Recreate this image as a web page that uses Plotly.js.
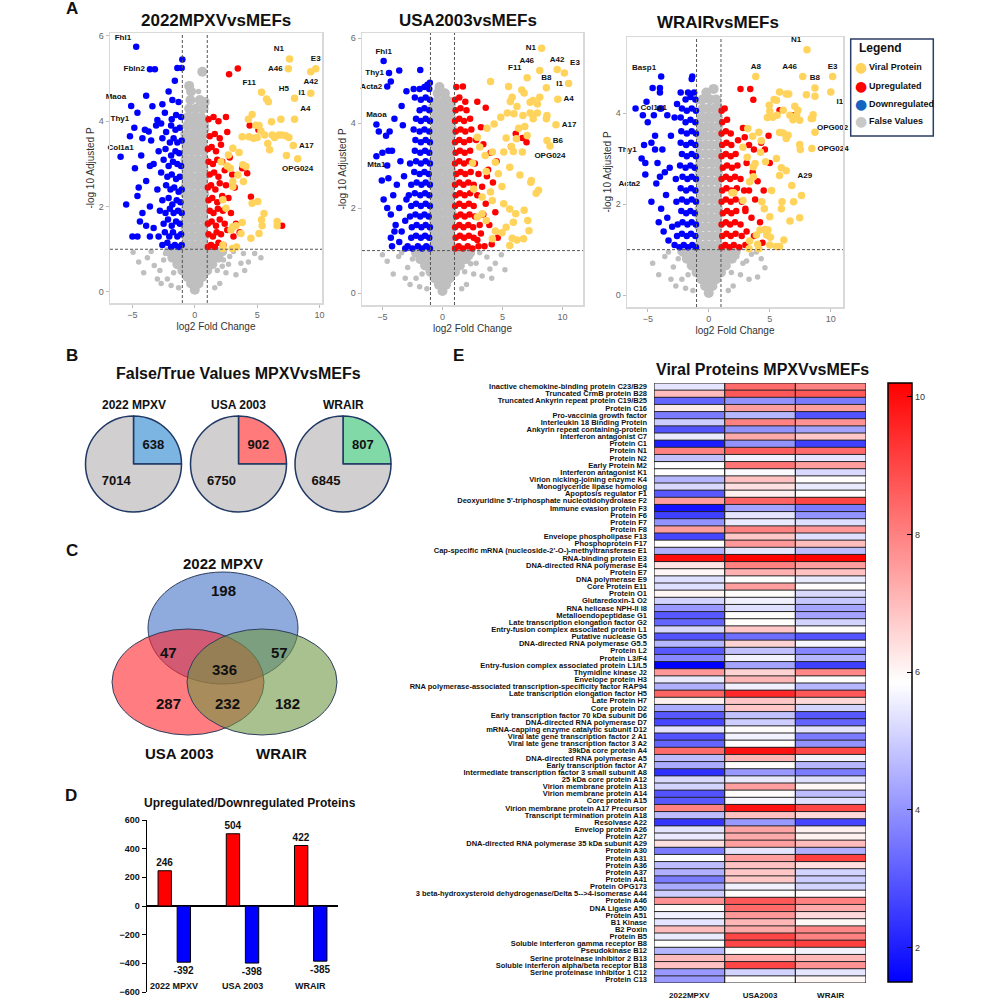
<!DOCTYPE html>
<html><head><meta charset="utf-8">
<script src="https://cdn.plot.ly/plotly-3.0.1.min.js"></script>
<style>html,body{margin:0;padding:0;background:#fff}#chart{width:1000px;height:1000px}</style>
</head><body><div id="chart"></div>
<script>
// ---------------- DATA ----------------
// Volcano 1: 2022MPXVvsMEFs  ([log2FC, -log10 adj P])
const v1GrayCore = [[0,0.05],[-0.3,0.2],[0.3,0.2],[-0.6,0.35],[0,0.35],[0.6,0.35],[-1.0,0.5],[-0.5,0.5],[0,0.5],[0.5,0.5],[1.0,0.5],
[-1.4,0.65],[-0.9,0.65],[-0.45,0.65],[0,0.65],[0.45,0.65],[0.9,0.65],[1.4,0.65],[-1.8,0.8],[-1.3,0.8],[-0.85,0.8],[-0.4,0.8],[0.05,0.8],[0.5,0.8],[0.95,0.8],[1.4,0.8],[1.9,0.8],
[-2.1,0.95],[-1.6,0.95],[-1.1,0.95],[-0.6,0.95],[-0.15,0.95],[0.3,0.95],[0.75,0.95],[1.2,0.95],[1.7,0.95],[2.2,0.95],
[-0.75,1.1],[-0.25,1.1],[0.25,1.1],[0.75,1.1],[-0.7,1.3],[-0.2,1.3],[0.3,1.3],[0.75,1.3],[-0.75,1.5],[-0.25,1.5],[0.25,1.5],[0.7,1.5],
[-0.7,1.7],[-0.25,1.7],[0.2,1.7],[0.7,1.7],[-0.75,1.9],[-0.3,1.9],[0.25,1.9],[0.75,1.9],[-0.7,2.1],[-0.2,2.1],[0.3,2.1],[0.7,2.1],
[-0.75,2.3],[-0.25,2.3],[0.25,2.3],[0.75,2.3],[-0.7,2.5],[-0.25,2.5],[0.2,2.5],[0.7,2.5],[-0.75,2.7],[-0.3,2.7],[0.25,2.7],[0.75,2.7],
[-0.7,2.9],[-0.2,2.9],[0.3,2.9],[0.7,2.9],[-0.75,3.1],[-0.25,3.1],[0.25,3.1],[0.75,3.1],[-0.7,3.3],[-0.25,3.3],[0.2,3.3],[0.7,3.3],
[-0.7,3.5],[-0.3,3.5],[0.2,3.5],[0.65,3.5],[-0.65,3.7],[-0.2,3.7],[0.25,3.7],[0.7,3.7],[-0.6,3.9],[-0.15,3.9],[0.3,3.9],[0.75,3.9],
[-0.55,4.1],[-0.05,4.1],[0.5,4.1],[-0.45,4.3],[0.1,4.3],[0.7,4.3],[-0.35,4.5],[0.4,4.5],[0.8,4.45],[-0.3,4.7],[-0.45,4.83],[0.6,5.16]];
const v1GrayScatter = [[-4.95,0.93],[-3.25,0.62],[3.7,0.67],[2.8,0.83],[-3.8,0.8],[-2.8,0.5],[-2.5,0.75],[-2.2,0.3],[-1.9,0.15],[2.0,0.2],[2.5,0.45],[3.1,0.95],[3.3,0.4],[4.3,0.7],[4.8,0.9],[5.3,0.8],[-4.1,0.45],[-3.5,0.95],[2.7,0.65],[-2.7,0.2],[1.6,0.1],[-1.3,0.1],[3.9,0.9],[-3.0,0.3],[4.0,0.5],[2.3,0.75],[-2.35,0.9],[-1.7,0.45],[1.8,0.5],[2.2,0.6],[-4.5,0.7],[0.3,4.7],[0.9,4.48],[-0.9,4.1],[0.85,4.05],[0.95,3.8],[-0.95,3.7]];
const v1Down = [[-1.05,1.1],[-1.3,1.05],[-1.6,1.1],[-1.9,1.05],[-2.2,1.15],[-2.6,1.1],[-1.1,1.35],[-1.4,1.3],[-1.75,1.4],[-2.05,1.3],[-2.4,1.4],[-2.9,1.3],
[-1.2,1.6],[-1.5,1.65],[-1.85,1.55],[-2.15,1.7],[-2.5,1.6],[-3.3,1.5],[-1.05,1.85],[-1.35,1.9],[-1.7,1.85],[-2.0,1.95],[-2.35,1.85],[-2.8,1.9],
[-1.15,2.1],[-1.45,2.15],[-1.8,2.05],[-2.1,2.2],[-2.6,2.15],[-3.6,2.0],[-1.05,2.4],[-1.3,2.35],[-1.65,2.45],[-1.95,2.4],[-2.3,2.5],[-3.0,2.4],
[-1.2,2.7],[-1.5,2.65],[-1.85,2.75],[-2.2,2.7],[-2.7,2.8],[-3.9,2.6],[-1.1,2.95],[-1.4,3.0],[-1.75,3.05],[-2.1,2.95],[-2.5,3.1],[-3.3,3.0],
[-1.25,3.25],[-1.55,3.3],[-1.9,3.2],[-2.35,3.35],[-2.9,3.3],[-4.3,3.2],[-1.05,3.55],[-1.4,3.5],[-1.7,3.6],[-2.0,3.5],[-2.6,3.6],[-3.5,3.55],
[-1.2,3.85],[-1.55,3.8],[-1.9,3.9],[-2.3,3.75],[-3.1,3.9],[-4.0,3.8],[-1.1,4.1],[-1.5,4.15],[-1.85,4.05],[-2.4,4.2],[-3.4,4.35],
[-1.3,4.45],[-1.8,4.5],[-2.1,4.7],[-2.6,4.4],[-1.0,5.45],[-1.05,5.25],[-1.4,5.25],[-1.6,4.95],[-3.2,5.22],
[-3.9,4.6],[-4.6,4.2],[-5.2,3.65],[-4.2,3.6],[-3.6,2.95],[-4.8,2.9],[-4.5,2.45],[-5.5,2.05],[-4.2,1.85],[-3.9,1.55],[-5.0,1.3],[-3.6,1.3],[-4.4,1.65],[-2.7,3.95],[-3.0,4.03],[-3.7,3.76],[-4.6,2.25],[-4.6,1.3]];
const v1Up = [[1.05,1.05],[1.3,1.1],[1.6,1.05],[1.9,1.15],[2.3,1.1],[1.1,1.35],[1.45,1.3],[1.75,1.4],[2.1,1.35],[2.6,1.45],[3.1,1.3],
[1.05,1.6],[1.35,1.65],[1.7,1.55],[2.0,1.7],[2.4,1.6],[3.3,1.6],[1.2,1.9],[1.5,1.85],[1.85,1.95],[2.25,1.9],[2.9,1.85],
[1.1,2.15],[1.4,2.2],[1.8,2.1],[2.2,2.25],[2.7,2.2],[1.05,2.45],[1.3,2.5],[1.65,2.4],[2.0,2.55],[2.5,2.5],[3.2,2.45],
[1.2,2.75],[1.55,2.8],[1.9,2.7],[2.4,2.85],[3.0,2.75],[1.1,3.05],[1.45,3.0],[1.8,3.1],[2.2,3.05],[2.8,3.15],
[1.05,3.35],[1.35,3.4],[1.7,3.3],[2.1,3.45],[1.2,3.65],[1.6,3.7],[2.0,3.6],[2.6,3.75],[1.1,4.05],[1.5,4.1],[1.9,4.0],[2.5,4.1],
[2.75,5.1],[3.45,5.24],[7.0,1.55],[4.2,2.78],[4.5,2.23],[5.1,3.8],[4.4,3.9],[3.6,1.4],[3.8,2.9]];
const v1Viral = [[5.75,4.52],[5.9,4.46],[4.6,4.16],[4.3,4.05],[4.9,3.91],[5.3,3.77],[5.15,3.9],[3.8,3.64],[4.35,3.64],[5.6,3.68],[6.2,3.68],[6.75,3.68],[7.3,3.66],[7.55,3.62],[6.9,4.05],[6.15,3.99],[5.85,3.48],[7.35,3.2],[6.0,3.33],
[3.05,3.37],[3.55,3.27],[2.7,3.21],[2.1,3.05],[2.85,2.9],[3.45,2.74],[3.85,2.98],[4.1,2.94],[3.9,2.59],[3.05,2.47],[2.25,2.16],[5.05,2.12],[5.55,1.84],[5.35,1.69],[3.8,1.63],[3.05,1.53],[3.7,1.37],[4.5,1.26],[5.15,1.37],[5.4,1.55],[6.6,1.55],
[2.25,1.02],[3.35,1.05],[3.0,1.02],[4.6,2.08],[2.5,1.96],[2.9,1.45],[2.25,1.1],[3.05,2.59],[4.7,3.6],[5.0,3.62],[6.4,3.62],[7.0,3.68],[2.6,2.95],[3.3,1.55],[6.6,1.65]];
const v1LabDownNames = ['Fhl1','Fbln2','Maoa','Thy1','Col1a1'];
const v1LabDownX = [-4.7,-3.6,-5.1,-4.85,-5.95];
const v1LabDownY = [5.75,5.22,4.36,3.85,3.17];
const v1LabViralNames = ['N1','A46','E3','A42','I1','H5','F11','A4','A17','OPG024'];
const v1LabViralX = [7.6,7.5,9.7,9.3,9.3,8.0,5.35,8.0,7.9,8.25];
const v1LabViralY = [5.46,5.23,5.23,5.16,4.66,4.54,4.68,4.05,3.43,3.12];

// Volcano 2: USA2003vsMEFs
const v2GrayCore = [[0,0.05],[-0.3,0.2],[0.3,0.2],[-0.65,0.35],[0,0.35],[0.6,0.35],[-1.0,0.5],[-0.5,0.5],[0,0.5],[0.5,0.5],[1.05,0.5],
[-1.45,0.65],[-0.95,0.65],[-0.45,0.65],[0,0.65],[0.45,0.65],[0.95,0.65],[1.45,0.65],[-1.85,0.8],[-1.35,0.8],[-0.85,0.8],[-0.4,0.8],[0.05,0.8],[0.5,0.8],[0.95,0.8],[1.45,0.8],[1.95,0.8],
[-2.2,0.95],[-1.65,0.95],[-1.1,0.95],[-0.6,0.95],[-0.15,0.95],[0.3,0.95],[0.8,0.95],[1.3,0.95],[1.8,0.95],[2.3,0.95],
[-0.75,1.1],[-0.25,1.1],[0.25,1.1],[0.75,1.1],[-0.7,1.3],[-0.2,1.3],[0.3,1.3],[0.75,1.3],[-0.75,1.5],[-0.25,1.5],[0.25,1.5],[0.7,1.5],
[-0.7,1.7],[-0.25,1.7],[0.2,1.7],[0.7,1.7],[-0.75,1.9],[-0.3,1.9],[0.25,1.9],[0.75,1.9],[-0.7,2.1],[-0.2,2.1],[0.3,2.1],[0.7,2.1],
[-0.75,2.3],[-0.25,2.3],[0.25,2.3],[0.75,2.3],[-0.7,2.5],[-0.25,2.5],[0.2,2.5],[0.7,2.5],[-0.75,2.7],[-0.3,2.7],[0.25,2.7],[0.75,2.7],
[-0.7,2.9],[-0.2,2.9],[0.3,2.9],[0.7,2.9],[-0.75,3.1],[-0.25,3.1],[0.25,3.1],[0.75,3.1],[-0.7,3.3],[-0.25,3.3],[0.2,3.3],[0.7,3.3],
[-0.7,3.5],[-0.3,3.5],[0.2,3.5],[0.65,3.5],[-0.65,3.7],[-0.2,3.7],[0.25,3.7],[0.7,3.7],[-0.6,3.9],[-0.15,3.9],[0.3,3.9],[0.75,3.9],
[-0.7,4.1],[-0.2,4.1],[0.3,4.1],[0.75,4.1],[-0.6,4.3],[-0.1,4.3],[0.4,4.3],[0.8,4.3],[-0.5,4.5],[0.05,4.5],[0.6,4.5],[-0.4,4.7],[0.2,4.7],[-0.25,4.85]];
const v2GrayScatter = [[-3.65,0.86],[3.7,0.85],[3.95,0.57],[2.35,0.69],[-2.9,0.6],[-2.5,0.8],[-2.2,0.35],[-1.9,0.15],[2.0,0.2],[2.6,0.45],[3.1,0.95],[3.3,0.4],[4.4,0.7],[4.9,0.9],[-4.1,0.45],[-3.4,0.95],[2.8,0.7],[-2.7,0.2],[1.6,0.1],[-1.3,0.1],[-3.1,0.35],[4.1,0.35],[2.3,0.85],[-2.35,0.95],[-1.7,0.45],[1.85,0.5],[-4.6,0.75],[0.4,4.6],[0.9,4.45],[-0.95,4.4],[5.2,0.55],[-5.0,0.9]];
const v2Down = [[-1.05,1.05],[-1.35,1.1],[-1.7,1.05],[-2.05,1.1],[-2.5,1.05],[-2.9,1.1],[-1.1,1.3],[-1.45,1.35],[-1.8,1.3],[-2.2,1.35],[-2.6,1.3],
[-1.05,1.55],[-1.4,1.6],[-1.75,1.55],[-2.15,1.6],[-2.55,1.55],[-1.15,1.8],[-1.5,1.85],[-1.85,1.8],[-2.25,1.85],[-2.7,1.8],
[-1.05,2.05],[-1.4,2.1],[-1.8,2.05],[-2.2,2.1],[-2.6,2.05],[-1.1,2.3],[-1.45,2.35],[-1.85,2.3],[-2.3,2.35],[-2.8,2.3],
[-1.05,2.55],[-1.4,2.6],[-1.75,2.55],[-2.15,2.6],[-2.6,2.55],[-1.15,2.8],[-1.5,2.85],[-1.9,2.8],[-2.35,2.85],
[-1.05,3.05],[-1.4,3.1],[-1.8,3.05],[-2.2,3.1],[-2.7,3.05],[-1.1,3.3],[-1.45,3.35],[-1.85,3.3],[-2.3,3.35],
[-1.05,3.55],[-1.4,3.6],[-1.8,3.55],[-2.25,3.6],[-1.1,3.8],[-1.5,3.85],[-1.9,3.8],[-2.4,3.85],
[-1.05,4.05],[-1.4,4.1],[-1.8,4.05],[-2.2,4.1],[-1.1,4.3],[-1.5,4.35],[-1.9,4.3],[-1.05,4.55],[-1.4,4.6],[-1.8,4.55],[-2.3,4.6],
[-1.1,4.8],[-1.5,4.85],[-1.9,4.8],[-2.4,4.8],[-1.05,4.95],[-1.25,4.9],
[-3.6,5.24],[-1.85,5.25],[-4.3,4.98],[-3.0,4.75],[-3.4,4.4],[-4.0,4.1],[-3.3,3.95],[-4.4,3.8],[-4.7,3.7],[-5.3,3.8],[-4.5,3.35],[-5.0,3.3],[-4.2,3.35],[-3.5,3.1],[-4.6,3.0],[-5.05,2.65],[-4.5,2.7],[-3.8,2.55],[-3.2,2.75],[-4.1,2.3],[-4.9,2.2],[-4.6,2.0],[-3.6,2.0],[-3.0,2.2],[-4.3,1.85],[-3.9,1.6],[-4.0,1.45],[-4.3,1.3],[-3.4,1.45],[-3.1,1.7],[-4.2,1.1],[-3.6,1.2],[-3.1,1.05]];
const v2Up = [[1.05,1.05],[1.35,1.1],[1.7,1.05],[2.1,1.1],[2.5,1.05],[3.0,1.1],[1.1,1.3],[1.45,1.35],[1.8,1.3],[2.2,1.35],[2.6,1.3],
[1.05,1.55],[1.4,1.6],[1.75,1.55],[2.15,1.6],[2.55,1.55],[3.1,1.6],[1.15,1.8],[1.5,1.85],[1.85,1.8],[2.25,1.85],[2.7,1.8],[3.4,1.85],
[1.05,2.05],[1.4,2.1],[1.8,2.05],[2.2,2.1],[2.6,2.05],[1.1,2.3],[1.45,2.35],[1.85,2.3],[2.3,2.35],[2.9,2.3],
[1.05,2.55],[1.4,2.6],[1.75,2.55],[2.15,2.6],[2.6,2.55],[1.15,2.8],[1.5,2.85],[1.9,2.8],[2.35,2.85],[3.0,2.8],
[1.05,3.05],[1.4,3.1],[1.8,3.05],[2.2,3.1],[2.7,3.05],[1.1,3.3],[1.45,3.35],[1.85,3.3],[2.3,3.35],
[1.05,3.55],[1.4,3.6],[1.8,3.55],[2.25,3.6],[2.8,3.6],[1.1,3.8],[1.5,3.85],[1.9,3.8],[2.4,3.85],
[1.05,4.05],[1.4,4.1],[1.8,4.05],[2.3,4.1],[1.1,4.3],[1.5,4.35],[2.0,4.3],[1.05,4.55],[1.4,4.6],[1.9,4.5],[1.15,4.85],[1.7,4.86],
[2.9,4.5],[3.6,4.36],[3.2,3.9],[3.4,3.5],[4.0,3.3],[4.5,3.1],[3.8,2.9],[3.3,2.5],[4.2,2.6],[3.6,2.1],[4.4,1.9],[3.9,1.6],[3.2,1.4],[4.6,1.3],[3.5,1.1],[2.9,1.25],[6.1,3.75],[6.65,3.65],[7.0,3.55],[5.7,3.45],[4.1,1.15],[3.7,2.75]];
const v2Viral = [[4.0,4.98],[5.5,4.86],[5.8,4.61],[5.65,4.51],[6.6,4.78],[6.8,4.71],[7.3,4.49],[7.55,4.53],[8.1,4.61],[7.9,4.45],[6.2,4.39],[5.95,4.22],[5.4,4.24],[4.85,4.14],[4.3,3.98],[3.7,3.88],[6.7,4.18],[7.3,4.24],[8.7,4.18],[8.65,4.1],[7.9,4.24],[7.55,4.1],[6.85,3.92],[6.35,3.88],[7.05,3.71],[6.15,3.63],[5.3,3.65],[5.75,3.45],[5.1,3.32],[5.9,3.33],[6.65,3.32],[4.15,3.32],[3.55,3.24],[3.1,3.44],[2.9,3.67],[2.5,3.06],[3.65,2.86],[4.4,3.08],[4.65,2.81],[5.6,2.96],[6.45,2.78],[7.35,2.61],[7.4,2.65],[8.0,2.42],[7.8,2.35],[4.95,2.51],[4.0,2.38],[2.6,2.45],[3.3,2.26],[4.15,2.18],[5.1,2.1],[5.6,1.98],[6.1,1.87],[6.8,1.95],[7.1,1.71],[5.9,1.67],[5.3,1.55],[4.95,1.42],[4.4,1.46],[4.15,1.28],[5.8,1.29],[6.2,1.25],[6.75,1.28],[7.2,1.47],[5.6,1.12],[3.3,1.87],[3.65,1.71],[2.9,1.79]];
const v2LabDownNames = ['Fhl1','Thy1','Acta2','Maoa','Mta1'];
const v2LabDownX = [-4.9,-4.45,-4.6,-5.5,-5.5];
const v2LabDownY = [5.46,5.18,4.86,3.97,3.22];
const v2LabViralNames = ['N1','A46','A42','E3','I1','F11','B8','A4','A17','B6','OPG024'];
const v2LabViralX = [8.25,8.1,9.55,10.15,10.5,7.05,8.65,9.6,9.45,8.7,8.95];
const v2LabViralY = [5.76,5.24,5.26,5.18,4.93,5.07,4.83,4.56,3.96,3.59,3.46];

// Volcano 3: WRAIRvsMEFs
const v3GrayCore = [[0,0.05],[-0.3,0.2],[0.3,0.2],[-0.6,0.35],[0,0.35],[0.6,0.35],[-1.0,0.5],[-0.5,0.5],[0,0.5],[0.5,0.5],[1.0,0.5],
[-1.4,0.65],[-0.9,0.65],[-0.45,0.65],[0,0.65],[0.45,0.65],[0.9,0.65],[1.4,0.65],[-1.8,0.8],[-1.3,0.8],[-0.85,0.8],[-0.4,0.8],[0.05,0.8],[0.5,0.8],[0.95,0.8],[1.4,0.8],[1.9,0.8],
[-2.1,0.95],[-1.6,0.95],[-1.1,0.95],[-0.6,0.95],[-0.15,0.95],[0.3,0.95],[0.75,0.95],[1.2,0.95],[1.7,0.95],[2.2,0.95],
[-0.75,1.1],[-0.25,1.1],[0.25,1.1],[0.75,1.1],[-0.7,1.3],[-0.2,1.3],[0.3,1.3],[0.75,1.3],[-0.75,1.5],[-0.25,1.5],[0.25,1.5],[0.7,1.5],
[-0.7,1.7],[-0.25,1.7],[0.2,1.7],[0.7,1.7],[-0.75,1.9],[-0.3,1.9],[0.25,1.9],[0.75,1.9],[-0.7,2.1],[-0.2,2.1],[0.3,2.1],[0.7,2.1],
[-0.75,2.3],[-0.25,2.3],[0.25,2.3],[0.75,2.3],[-0.7,2.5],[-0.25,2.5],[0.2,2.5],[0.7,2.5],[-0.75,2.7],[-0.3,2.7],[0.25,2.7],[0.75,2.7],
[-0.7,2.9],[-0.2,2.9],[0.3,2.9],[0.7,2.9],[-0.75,3.1],[-0.25,3.1],[0.25,3.1],[0.75,3.1],[-0.7,3.3],[-0.25,3.3],[0.2,3.3],[0.7,3.3],
[-0.7,3.5],[-0.3,3.5],[0.2,3.5],[0.7,3.5],[-0.65,3.7],[-0.2,3.7],[0.25,3.7],[0.75,3.7],[-0.6,3.9],[-0.15,3.9],[0.3,3.9],[0.75,3.9],
[-0.5,4.1],[0,4.1],[0.5,4.1],[0.8,4.1],[-0.5,4.3],[0.1,4.3],[0.6,4.3],[0.4,4.53],[-0.2,4.45]];
const v3GrayScatter = [[-2.9,0.62],[4.3,0.8],[3.5,0.9],[-3.6,0.85],[-2.5,0.8],[-2.2,0.35],[-1.9,0.15],[2.0,0.2],[2.6,0.45],[3.1,0.75],[3.3,0.35],[4.6,0.6],[-4.1,0.45],[-3.3,0.95],[2.8,0.7],[-2.7,0.2],[1.6,0.1],[-1.3,0.1],[-3.1,0.35],[4.0,0.4],[2.3,0.85],[-2.35,0.95],[-1.7,0.45],[1.85,0.5],[-4.6,0.7],[0.85,4.2],[-0.9,4.25],[3.9,0.95]];
const v3Down = [[-1.05,1.05],[-1.35,1.1],[-1.7,1.05],[-2.05,1.1],[-2.4,1.05],[-1.1,1.3],[-1.45,1.35],[-1.8,1.3],[-2.2,1.35],[-2.6,1.3],
[-1.05,1.55],[-1.4,1.6],[-1.75,1.55],[-2.15,1.6],[-2.55,1.55],[-1.15,1.8],[-1.5,1.85],[-1.85,1.8],[-2.25,1.85],
[-1.05,2.05],[-1.4,2.1],[-1.8,2.05],[-2.2,2.1],[-2.65,2.05],[-1.1,2.3],[-1.45,2.35],[-1.85,2.3],[-2.3,2.35],
[-1.05,2.55],[-1.4,2.6],[-1.75,2.55],[-2.15,2.6],[-2.7,2.55],[-1.15,2.8],[-1.5,2.85],[-1.9,2.8],[-2.35,2.85],
[-1.05,3.05],[-1.4,3.1],[-1.8,3.05],[-2.2,3.1],[-1.1,3.3],[-1.45,3.35],[-1.85,3.3],[-2.3,3.35],
[-1.05,3.55],[-1.4,3.6],[-1.8,3.55],[-2.25,3.6],[-1.1,3.8],[-1.5,3.85],[-1.9,3.8],[-2.3,3.9],
[-1.05,4.05],[-1.4,4.1],[-1.8,4.05],[-2.2,4.1],[-1.1,4.3],[-1.5,4.35],[-1.9,4.3],[-2.3,4.45],[-1.2,4.45],[-1.7,4.45],[-1.35,4.8],[-1.4,4.75],
[-4.6,4.55],[-4.0,4.55],[-4.0,4.45],[-5.1,4.25],[-4.0,4.1],[-3.9,4.1],[-5.4,3.95],[-4.5,3.95],[-5.0,3.8],[-3.4,3.95],[-4.4,3.5],[-4.7,3.35],[-5.3,3.3],[-4.4,3.2],[-5.2,2.9],[-3.8,3.2],[-4.2,2.9],[-4.0,2.6],[-3.6,2.7],[-3.2,2.8],[-4.3,2.45],[-4.7,2.05],[-3.5,2.2],[-3.9,1.9],[-3.4,1.7],[-4.1,1.6],[-3.7,1.4],[-3.3,1.2],[-3.0,1.5],[-2.8,1.1],[-3.1,3.5],[-2.8,3.9],[-2.6,4.2]];
const v3Up = [[1.05,1.05],[1.35,1.1],[1.7,1.05],[2.05,1.1],[2.5,1.05],[1.1,1.3],[1.45,1.35],[1.8,1.3],[2.2,1.35],[2.7,1.3],
[1.05,1.55],[1.4,1.6],[1.75,1.55],[2.15,1.6],[2.6,1.55],[1.15,1.8],[1.5,1.85],[1.85,1.8],[2.25,1.85],[3.0,1.85],
[1.05,2.05],[1.4,2.1],[1.8,2.05],[2.2,2.1],[2.7,2.05],[1.1,2.3],[1.45,2.35],[1.85,2.3],[2.3,2.35],[2.9,2.3],
[1.05,2.55],[1.4,2.6],[1.75,2.55],[2.15,2.6],[2.6,2.55],[1.15,2.8],[1.5,2.85],[1.9,2.8],[2.35,2.85],
[1.05,3.05],[1.4,3.1],[1.8,3.05],[2.2,3.1],[1.1,3.3],[1.45,3.35],[1.85,3.3],[2.4,3.4],[1.05,3.55],[1.4,3.6],[1.8,3.55],[1.1,3.8],[1.5,3.85],[1.05,4.05],[1.3,4.1],
[2.6,4.53],[3.4,4.53],[3.65,4.29],[5.8,4.06],[6.9,3.95],[2.8,3.67],[2.95,3.47],[3.3,3.3],[3.7,3.2],[4.3,3.35],[4.6,3.2],[3.1,2.9],[3.6,2.7],[4.0,2.5],[3.3,2.3],[4.5,2.3],[3.8,2.1],[3.0,1.9],[3.5,1.7],[4.2,1.6],[3.1,1.4],[3.7,1.3],[4.4,1.15],[3.0,1.1],[5.0,2.9],[4.9,3.5]];
const v3Viral = [[5.8,4.46],[5.35,4.3],[5.55,4.28],[6.35,4.42],[6.55,4.42],[4.95,4.17],[5.0,4.04],[4.8,3.9],[5.25,3.91],[5.6,3.95],[6.1,4.06],[6.65,3.95],[7.05,4.15],[7.3,4.06],[7.2,3.95],[6.9,3.85],[7.45,3.84],[8.0,4.4],[8.7,4.37],[8.55,3.96],[8.5,3.88],[8.7,3.58],[7.45,3.31],[7.5,3.2],[5.8,3.57],[6.1,3.56],[6.5,3.51],[6.35,3.44],
[3.2,3.66],[3.6,3.49],[4.1,3.58],[4.3,3.39],[2.8,3.25],[3.15,3.03],[3.8,2.89],[3.65,2.82],[4.25,3.14],[4.65,2.93],[5.55,3.0],[5.95,2.8],[5.8,2.63],[6.35,2.73],[5.15,2.3],[3.65,2.6],[3.35,2.49],[1.9,2.25],[2.05,2.25],[2.8,2.08],[4.35,2.05],[4.55,1.9],[5.0,1.72],[5.95,1.9],[6.0,2.05],[6.95,2.05],[7.6,2.19],[7.45,1.7],[6.65,1.63],
[4.85,1.43],[4.75,1.32],[5.05,1.27],[6.15,1.21],[5.55,1.07],[5.8,1.07],[5.0,1.1],[4.1,1.02],[4.0,1.12],[3.3,1.02],[3.35,1.19],[3.9,1.32],[4.2,1.43],[4.6,1.44]];
const v3LabDownNames = ['Basp1','Col1a1','Thy1','Acta2'];
const v3LabDownX = [-3.9,-6.0,-5.5,-5.2];
const v3LabDownY = [4.8,4.1,3.0,2.65];
const v3LabViralNames = ['N1','A8','A46','E3','B8','I1','OPG002','OPG024','A29'];
const v3LabViralX = [8.05,3.85,7.7,10.15,8.7,10.0,8.4,8.45,6.8];
const v3LabViralY = [5.39,4.8,4.8,4.8,4.55,4.46,3.88,3.22,2.41];

// Legend entries of panel A
const legendNames = ['Viral Protein','Upregulated','Downregulated','False Values'];

// Panel B: false/true value counts
const pieNames = ['2022 MPXV','USA 2003','WRAIR'];
const trueCounts = [638, 902, 807];
const falseCounts = [7014, 6750, 6845];
const pieDrawnShare = [1, 3]; // the reference draws the true slice as a fixed quarter

// Panel C: Venn counts
const vennCounts = [198, 47, 57, 336, 287, 232, 182]; // 2022only, 2022&USA, 2022&WRAIR, all, USAonly, USA&WRAIR, WRAIRonly
const vennSets = ['2022 MPXV','USA 2003','WRAIR'];

// Panel D
const barGroups = ['2022 MPXV','USA 2003','WRAIR'];
const upCounts = [246, 504, 422];
const downCounts = [-392, -398, -385];

// Panel E heatmap
const hmLabels = ['Inactive chemokine-binding protein C23/B29','Truncated CrmB protein B28','Truncated Ankyrin repeat protein C19/B25','Protein C16','Pro-vaccinia growth factor','Interleukin 18 Binding Protein','Ankyrin repeat containing-protein','Interferon antagonist C7','Protein C1','Protein N1',
'Protein N2','Early Protein M2','Interferon antagonist K1','Virion nicking-joining enzyme K4','Monoglyceride lipase homolog','Apoptosis regulator F1',"Deoxyuridine 5'-triphosphate nucleotidohydrolase F2",'Immune evasion protein F3','Protein F6','Protein F7',
'Protein F8','Envelope phospholipase F13','Phosphoprotein F17',"Cap-specific mRNA (nucleoside-2'-O-)-methyltransferase E1",'RNA-binding protein E3','DNA-directed RNA polymerase E4','Protein E7','DNA polymerase E9','Core Protein E11','Protein O1',
'Glutaredoxin-1 O2','RNA helicase NPH-II I8','Metalloendopeptidase G1','Late transcription elongation factor G2','Entry-fusion complex associated protein L1','Putative nuclease G5','DNA-directed RNA polymerase G5.5','Protein L2','Protein L3/F4','Entry-fusion complex associated protein L1/L5',
'Thymidine kinase J2','Envelope protein H3','RNA polymerase-associated transcription-specificity factor RAP94','Late transcription elongation factor H5','Late Protein H7','Core protein D2','Early transcription factor 70 kDa subunit D6','DNA-directed RNA polymerase D7','mRNA-capping enzyme catalytic subunit D12','Viral late gene transcription factor 2 A1',
'Viral late gene transcription factor 3 A2','39kDa core protein A4','DNA-directed RNA polymerase A5','Early transcription factor A7','Intermediate transcription factor 3 small subunit A8','25 kDa core protein A12','Virion membrane protein A13','Virion membrane protein A14','Core protein A15','Virion membrane protein A17 Precursor',
'Transcript termination protein A18','Resolvase A22','Envelop protein A26','Protein A27','DNA-directed RNA polymerase 35 kDa subunit A29','Protein A30','Protein A31','Protein A36','Protein A37','Protein A41',
'Protein OPG173','3 beta-hydroxysteroid dehydrogenase/Delta 5-->4-isomerase A44','Protein A46','DNA Ligase A50','Protein A51','B1 Kinase','B2 Poxin','Protein B5','Soluble interferon gamma receptor B8','Pseudokinase B12',
'Serine proteinase inhibitor 2 B13','Soluble interferon alpha/beta receptor B18','Serine proteinase inhibitor 1 C12','Protein C13'];
const hmColumns = ['2022MPXV','USA2003','WRAIR'];
const hm2022 = [5.4,7.0,3.2,6.2,3.6,5.0,2.9,5.5,2.0,8.0, 4.8,5.85,5.85,4.6,5.2,3.0,7.5,1.8,2.6,4.0, 7.5,2.7,5.85,4.5,10.0,6.3,6.0,5.3,5.3,6.0, 5.1,4.1,3.0,3.2,5.2,2.9,4.6,3.0,3.8,1.5, 7.6,5.5,4.5,8.5,6.1,4.4,3.0,2.7,5.4,2.9, 3.2,8.4,4.7,4.4,2.3,5.2,5.1,2.9,3.0,8.0, 4.7,2.4,5.4,5.5,6.4,3.6,5.85,4.7,4.5,3.6, 4.4,5.0,7.7,5.9,5.6,5.4,7.0,5.5,5.9,4.6, 7.0,6.9,4.1,4.1];
const hmUSA = [8.4,8.7,4.0,7.5,4.6,8.0,4.0,7.3,4.0,8.6, 5.6,8.2,5.75,6.9,6.4,6.1,8.5,4.3,5.4,5.5, 8.0,6.8,7.6,5.4,10.2,8.0,7.2,5.85,7.5,5.9, 5.6,5.3,5.9,5.9,6.8,3.4,6.6,4.8,5.65,4.3, 6.6,7.1,5.6,9.5,6.8,6.8,4.8,5.0,5.9,5.65, 5.85,9.9,7.1,5.9,4.1,5.5,7.5,5.9,5.7,9.9, 6.9,4.1,7.4,7.3,7.5,5.4,7.5,6.9,6.8,6.8, 5.6,5.9,8.7,8.4,7.6,7.1,7.3,9.0,9.0,5.8, 7.3,9.0,5.1,5.9];
const hmWRAIR = [8.0,8.7,3.6,7.5,2.9,7.7,4.3,6.8,2.6,8.4, 5.4,7.5,5.2,5.9,5.5,5.85,9.0,3.6,4.0,5.3, 7.6,5.3,7.0,4.7,10.2,7.5,6.9,5.5,5.9,5.2, 4.9,4.3,4.3,5.1,5.9,2.9,5.7,3.8,4.6,2.6, 7.9,5.9,4.6,8.7,6.5,5.1,3.0,3.2,5.4,3.6, 4.0,9.0,5.65,4.6,3.6,5.3,6.0,4.7,5.3,9.0, 6.5,2.7,6.1,6.1,7.0,4.5,9.1,6.4,5.1,5.0, 5.1,5.9,8.0,7.3,6.5,6.0,7.9,8.0,9.1,5.65, 7.1,7.7,5.4,6.0];
const fcCut = 1, pCut = 1;

// ---------------- STYLE / BUILD ----------------
const FONT = 'Liberation Sans, Arial, sans-serif';
const C = {gray:'#bfbfbf', blue:'#0000ff', red:'#ff0000', viral:'#ffd35c'};
const traces = [];
function grp(data, xa, ya, color, size){
  traces.push({type:'scatter', mode:'markers', x:data.map(p=>p[0]), y:data.map(p=>p[1]),
    xaxis:xa, yaxis:ya, marker:{color:color, size:size}, hoverinfo:'skip', showlegend:false});
}
function lab(names, xs, ys, pos, xa, ya, color, size){
  traces.push({type:'scatter', mode:'markers+text', x:xs, y:ys, text:names, textposition:pos,
    textfont:{family:FONT, size:8, color:'#111', weight:'bold'}, marker:{color:color, size:size},
    xaxis:xa, yaxis:ya, showlegend:false, cliponaxis:false, hoverinfo:'skip'});
}
const vol = [
  {core:v1GrayCore, sc:v1GrayScatter, dn:v1Down, up:v1Up, vi:v1Viral, ldn:[v1LabDownNames,v1LabDownX,v1LabDownY], lvi:[v1LabViralNames,v1LabViralX,v1LabViralY],
   pdn:['top left','middle left','top left','top left','top center'],
   pvi:['top left','middle left','top center','bottom center','middle left','top left','top left','top right','middle right','bottom center']},
  {core:v2GrayCore, sc:v2GrayScatter, dn:v2Down, up:v2Up, vi:v2Viral, ldn:[v2LabDownNames,v2LabDownX,v2LabDownY], lvi:[v2LabViralNames,v2LabViralX,v2LabViralY],
   pdn:['top center','middle left','middle left','top center','bottom center'],
   pvi:['middle left','top left','top center','top right','middle left','top left','top center','middle right','middle right','middle right','bottom center']},
  {core:v3GrayCore, sc:v3GrayScatter, dn:v3Down, up:v3Up, vi:v3Viral, ldn:[v3LabDownNames,v3LabDownX,v3LabDownY], lvi:[v3LabViralNames,v3LabViralX,v3LabViralY],
   pdn:['top left','middle right','top left','bottom left'],
   pvi:['top left','top center','top left','top center','top center','bottom right','bottom right','middle right','top right']}
];
vol.forEach((v,i)=>{
  const xa = i===0?'x':'x'+(i+1), ya = i===0?'y':'y'+(i+1);
  grp(v.core, xa, ya, C.gray, 10);
  grp(v.sc, xa, ya, C.gray, 5.5);
  grp(v.dn, xa, ya, C.blue, 6.5);
  grp(v.up, xa, ya, C.red, 6.5);
  grp(v.vi, xa, ya, C.viral, 7.5);
  lab(v.ldn[0], v.ldn[1], v.ldn[2], v.pdn, xa, ya, C.blue, 6.5);
  lab(v.lvi[0], v.lvi[1], v.lvi[2], v.pvi, xa, ya, C.viral, 7.5);
});

// Pies
const pieColors = ['#7cb4e2','#ff7b7b','#82d9a8'];
const pieCx = [0.1335, 0.2385, 0.343];
pieNames.forEach((n,i)=>{
  traces.push({type:'pie', values:pieDrawnShare, text:[String(trueCounts[i]), String(falseCounts[i])],
    textinfo:'text', texttemplate:'<b>%{text}</b>', textposition:'inside', insidetextorientation:'horizontal',
    textfont:{family:FONT, size:13, color:'#111'}, sort:false, direction:'clockwise', rotation:0,
    marker:{colors:[pieColors[i],'#d1cfcf'], line:{color:'#1f3864', width:1.5}},
    domain:{x:[pieCx[i]-0.048, pieCx[i]+0.048], y:[0.488, 0.584]},
    showlegend:false, hoverinfo:'skip'});
});

// Bars
const barText = {family:FONT, size:10, color:'#111', weight:'bold'};
traces.push({type:'bar', x:[0,1,2], y:upCounts, xaxis:'x5', yaxis:'y5', marker:{color:'#ff0000', line:{color:'#000', width:1}},
  text:upCounts.map(String), textposition:'outside', constraintext:'none', textfont:barText, outsidetextfont:barText, cliponaxis:false, showlegend:false, hoverinfo:'skip'});
traces.push({type:'bar', x:[0,1,2], y:downCounts, xaxis:'x5', yaxis:'y5', marker:{color:'#0000ff', line:{color:'#000', width:1}},
  text:downCounts.map(String), textposition:'outside', constraintext:'none', textfont:barText, outsidetextfont:barText, cliponaxis:false, showlegend:false, hoverinfo:'skip'});

// Heatmap
const zRows = hmLabels.map((_,i)=>[hm2022[i], hmUSA[i], hmWRAIR[i]]);
traces.push({type:'heatmap', z:zRows, x:[0,1,2], y:hmLabels.map((_,i)=>i), xaxis:'x4', yaxis:'y4',
  zmin:1.5, zmax:10.2, colorscale:[[0,'#0000ff'],[0.5,'#ffffff'],[1,'#ff0000']], hoverinfo:'skip',
  colorbar:{x:0.888, xanchor:'left', y:0.617, yanchor:'top', len:0.599, lenmode:'fraction', thickness:24, thicknessmode:'pixels',
    outlinewidth:1.5, outlinecolor:'#000', tickvals:[2,4,6,8,10], ticks:'inside', ticklen:5, tickcolor:'#000',
    tickfont:{family:FONT, size:9, color:'#333'}, xpad:0, ypad:0}});

// ---------------- LAYOUT ----------------
function volAxes(dx, dy, rx, ry, anchorX, anchorY){
  const common = {showline:true, mirror:true, linecolor:'#d9d9d9', linewidth:1.5, showgrid:false, zeroline:false,
    ticks:'outside', ticklen:3, tickcolor:'#bbb', tickfont:{family:FONT, size:9, color:'#666'}};
  return [Object.assign({}, common, {domain:dx, range:rx, dtick:5, anchor:anchorY,
      title:{text:'log2 Fold Change', font:{family:FONT, size:10, color:'#333'}, standoff:3}}),
    Object.assign({}, common, {domain:dy, range:ry, dtick:2, anchor:anchorX,
      title:{text:'-log 10 Adjusted P', font:{family:FONT, size:10, color:'#333'}, standoff:2}})];
}
const [xa1, ya1] = volAxes([0.110,0.322],[0.697,0.967],[-6.8,10.2],[-0.26,6.07],'x','y');
const [xa2, ya2] = volAxes([0.362,0.583],[0.695,0.967],[-6.7,11.7],[-0.28,6.12],'x2','y2');
const [xa3, ya3] = volAxes([0.627,0.843],[0.693,0.963],[-6.7,11.0],[-0.26,5.67],'x3','y3');

const shapes = [];
[['x','y'],['x2','y2'],['x3','y3']].forEach(([xa,ya])=>{
  const ln = {color:'#555', width:1, dash:'3px,2px'};
  shapes.push({type:'line', xref:xa, yref:ya+' domain', x0:-fcCut, x1:-fcCut, y0:0, y1:1, line:ln});
  shapes.push({type:'line', xref:xa, yref:ya+' domain', x0:fcCut, x1:fcCut, y0:0, y1:1, line:ln});
  shapes.push({type:'line', xref:xa+' domain', yref:ya, x0:0, x1:1, y0:pCut, y1:pCut, line:ln});
});
// Legend box of panel A
shapes.push({type:'rect', xref:'paper', yref:'paper', x0:0.8507, x1:0.9333, y0:0.864, y1:0.961, line:{color:'#2b3e66', width:1.5}, fillcolor:'#fff'});
// Venn ellipses (paper coords)
const vennEll = [
  {x0:0.148,x1:0.298,y0:0.316,y1:0.428,fill:'rgba(68,113,196,0.6)'},
  {x0:0.112,x1:0.264,y0:0.265,y1:0.371,fill:'rgba(255,37,43,0.6)'},
  {x0:0.187,x1:0.337,y0:0.265,y1:0.371,fill:'rgba(112,152,67,0.6)'}
];
vennEll.forEach(e=>shapes.push({type:'circle', xref:'paper', yref:'paper', x0:e.x0, x1:e.x1, y0:e.y0, y1:e.y1,
  fillcolor:e.fill, line:{color:'#2f3f5f', width:1}, layer:'above'}));
// Heatmap cell borders
for(let i=0;i<=hmLabels.length;i++) shapes.push({type:'line', xref:'x4 domain', yref:'y4', x0:0, x1:1, y0:i-0.5, y1:i-0.5, line:{color:'#222', width:1}});
for(let j=0;j<=hmColumns.length;j++) shapes.push({type:'line', xref:'x4', yref:'y4 domain', x0:j-0.5, x1:j-0.5, y0:0, y1:1, line:{color:'#222', width:1.2}});

const ann = [];
function A(x,y,text,size,extra){ ann.push(Object.assign({xref:'paper', yref:'paper', x:x, y:y, text:text, showarrow:false,
  font:{family:FONT, size:size, color:'#111'}, xanchor:'center', yanchor:'middle'}, extra||{})); }
A(0.072,0.992,'<b>A</b>',17); A(0.072,0.645,'<b>B</b>',17); A(0.072,0.450,'<b>C</b>',17); A(0.071,0.205,'<b>D</b>',17); A(0.458,0.645,'<b>E</b>',17);
A(0.216,0.980,'<b>2022MPXVvsMEFs</b>',17); A(0.468,0.980,'<b>USA2003vsMEFs</b>',17); A(0.718,0.978,'<b>WRAIRvsMEFs</b>',17);
A(0.238,0.627,'<b>False/True Values MPXVvsMEFs</b>',16);
A(0.762,0.631,'<b>Viral Proteins MPXVvsMEFs</b>',16);
A(0.250,0.197,'<b>Upregulated/Downregulated Proteins</b>',12);
// pie titles
pieNames.forEach((n,i)=>A(pieCx[i], 0.595, '<b>'+n+'</b>', 12));
// legend content
const legendColors = [C.viral, C.red, '#1565c0', '#c8c8c8'];
const legendY = [0.933, 0.914, 0.896, 0.879];
A(0.857, 0.952, '<b>Legend</b>', 12, {xanchor:'left'});
legendNames.forEach((n,i)=>{
  A(0.8605, legendY[i], '●', 14, {font:{family:'DejaVu Sans, sans-serif', size:14, color:legendColors[i]}});
  A(0.867, legendY[i], '<b>'+n+'</b>', 9, {xanchor:'left'});
});
// venn labels & counts
A(0.223,0.437,'<b>'+vennSets[0]+'</b>',15); A(0.179,0.247,'<b>'+vennSets[1]+'</b>',15); A(0.281,0.247,'<b>'+vennSets[2]+'</b>',15);
const vennPos = [[0.223,0.410],[0.168,0.348],[0.279,0.348],[0.224,0.330],[0.168,0.297],[0.227,0.297],[0.287,0.297]];
vennCounts.forEach((c,i)=>A(vennPos[i][0], vennPos[i][1], '<b>'+c+'</b>', 15));
// bar group labels
barGroups.forEach((g,i)=>ann.push({xref:'x5', yref:'y5', x:i, y:-560, text:'<b>'+g+'</b>', showarrow:false,
  font:{family:FONT, size:9, color:'#111'}}));

const layout = {
  width:1000, height:1000, margin:{l:0,r:0,t:0,b:0}, paper_bgcolor:'#fff', plot_bgcolor:'#fff',
  font:{family:FONT}, showlegend:false,
  xaxis:xa1, yaxis:ya1, xaxis2:xa2, yaxis2:ya2, xaxis3:xa3, yaxis3:ya3,
  xaxis4:{domain:[0.654,0.866], anchor:'y4', range:[-0.5,2.5], tickmode:'array', tickvals:[0,1,2], ticktext:hmColumns,
    tickfont:{family:FONT, size:8, color:'#111', weight:'bold'}, showgrid:false, zeroline:false, showline:false, ticks:'', ticklabelstandoff:6},
  yaxis4:{domain:[0.017,0.617], anchor:'x4', range:[hmLabels.length-0.5,-0.5], tickmode:'array', tickvals:hmLabels.map((_,i)=>i), ticktext:hmLabels,
    tickfont:{family:FONT, size:7.5, color:'#111', weight:'bold'}, showgrid:false, zeroline:false, showline:false, ticks:'', ticklabelstandoff:6},
  xaxis5:{domain:[0.147,0.338], anchor:'y5', range:[-0.4,2.4], showgrid:false, zeroline:false, showline:false, showticklabels:false, ticks:''},
  yaxis5:{domain:[0.008,0.180], anchor:'x5', range:[-600,600], tickvals:[-600,-400,-200,0,200,400,600], showgrid:false,
    zeroline:true, zerolinecolor:'#000', zerolinewidth:1.5, showline:true, linecolor:'#000', linewidth:1.5, ticks:'outside', ticklen:4, tickcolor:'#000',
    tickfont:{family:FONT, size:9, color:'#111', weight:'bold'}},
  barmode:'group', bargap:0.44, bargroupgap:0.3,
  shapes:shapes, annotations:ann
};
Plotly.newPlot('chart', traces, layout, {staticPlot:true});
</script></body></html>
